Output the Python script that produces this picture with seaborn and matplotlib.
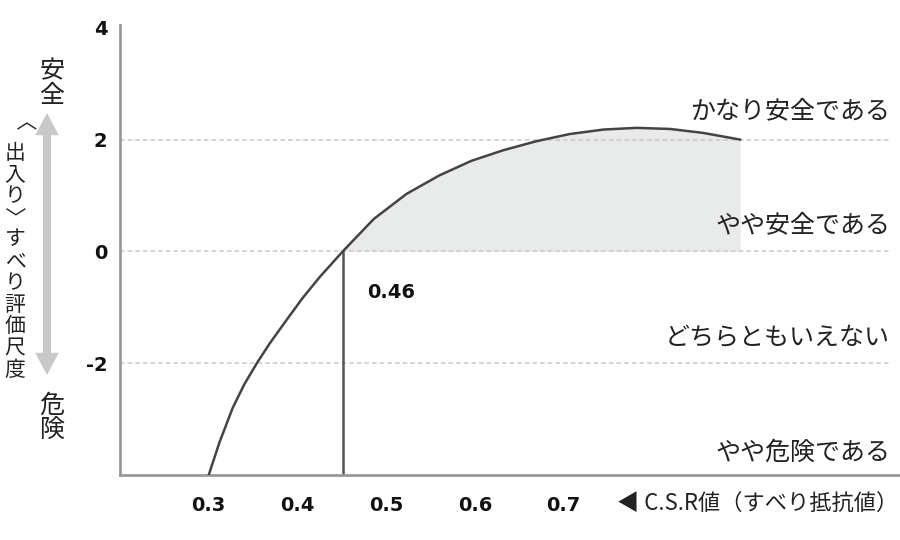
import matplotlib
matplotlib.use('Agg')
import matplotlib.pyplot as plt
import matplotlib.patches as mpatches
import seaborn as sns
import pandas as pd

# 読み取った曲線（C.S.R値とすべり評価）
csr = [0.300, 0.312, 0.327, 0.340, 0.355, 0.369, 0.388, 0.406, 0.425,
       0.451, 0.486, 0.523, 0.560, 0.596, 0.632, 0.669, 0.707, 0.745,
       0.782, 0.820, 0.857, 0.899]
score = [-4.00, -3.42, -2.80, -2.38, -1.98, -1.64, -1.22, -0.83, -0.46,
         0.00, 0.58, 1.03, 1.36, 1.62, 1.81, 1.97, 2.10, 2.18,
         2.21, 2.19, 2.12, 2.00]

cross_x = 0.451
cross_label = '0.46'
x_ticks = [0.3, 0.4, 0.5, 0.6, 0.7]
y_ticks = [4, 2, 0, -2]
grid_y = [2, 0, -2]
level_labels = ['かなり安全である', 'やや安全である', 'どちらともいえない', 'やや危険である']
level_y = [2.5, 0.47, -1.56, -3.6]
y_title = '〈出入り〉すべり評価尺度'
x_title = '◀ C.S.R値（すべり抵抗値）'

sns.set_theme(style='white')
jp = ['Noto Sans CJK JP', 'DejaVu Sans']
plt.rcParams['font.family'] = jp

fig = plt.figure(figsize=(9, 5.4), dpi=100)
ax = fig.add_axes([120 / 900, 65 / 540, 780 / 900, 450 / 540])
ax.set_xlim(0.2, 1.079)
ax.set_ylim(-4, 4.05)

df = pd.DataFrame({'csr': csr, 'score': score})
pos = df[df.score >= 0]
ax.fill_between(pos.csr, 0, pos.score, color='#e9eaea', lw=0, zorder=0)
for g in grid_y:
    ax.axhline(g, xmin=0, xmax=770 / 780, color='#c8c8c8', lw=1.1,
               ls=(0, (3, 2)), zorder=1)
sns.lineplot(data=df, x='csr', y='score', sort=False, color='#444444',
             lw=1.8, ax=ax, zorder=3)
ax.vlines(cross_x, -4, 0, color='#555555', lw=1.8, zorder=2)
ax.text(cross_x + 0.028, -0.73, cross_label, family='DejaVu Sans',
        fontweight='bold', fontsize=14, va='center', color='#111111')

# 軸
for s in ['top', 'right']:
    ax.spines[s].set_visible(False)
for s in ['left', 'bottom']:
    ax.spines[s].set_color('#999999')
    ax.spines[s].set_linewidth(2)
ax.set_xticks(x_ticks)
ax.set_xticklabels([f'{v:.1f}' for v in x_ticks])
ax.set_yticks(y_ticks)
ax.set_yticklabels([str(v) for v in y_ticks])
ax.tick_params(axis='x', direction='in', length=7, width=1.5,
               color='#999999', pad=15)
ax.tick_params(axis='y', length=0, pad=9)
for lab in ax.get_xticklabels() + ax.get_yticklabels():
    lab.set_family('DejaVu Sans')
    lab.set_fontweight('bold')
    lab.set_fontsize(14)
    lab.set_color('#111111')
ax.set_xlabel('')
ax.set_ylabel('')

# 右側の評価ラベル
for lab, y in zip(level_labels, level_y):
    ax.text(770 / 780, y, lab, transform=ax.get_yaxis_transform(),
            ha='right', va='center', fontsize=18, color='#222222')

fig.text(898 / 900, 1 - 503 / 540, x_title, ha='right',
         va='center', fontsize=16, color='#222222')

# 左側の縦書き（括弧は回転、ベースライン基準で配置）
for i, ch in enumerate(y_title):
    y = 1 - (131 + i * 21.7) / 540
    if ch in '〈〉':
        fig.text(6 / 900, y, ch, ha='center', va='baseline', rotation=-90,
                 rotation_mode='anchor', fontsize=15, color='#222222')
    else:
        fig.text(15 / 900, y, ch, ha='center', va='center',
                 fontsize=15, color='#222222')
fig.text(52 / 900, 1 - 84 / 540, '安\n全', ha='center', va='center',
         fontsize=18, linespacing=0.95, color='#222222')
fig.text(52 / 900, 1 - 418 / 540, '危\n険', ha='center', va='center',
         fontsize=18, linespacing=0.95, color='#222222')

mid = (47, 540 - 244)
for end in [(47, 540 - 113), (47, 540 - 375)]:
    fig.patches.append(mpatches.FancyArrowPatch(
        mid, end, transform=None,
        arrowstyle='simple,head_width=17,head_length=16,tail_width=5.8',
        mutation_scale=1, color='#c8c8c8', lw=0, shrinkA=0, shrinkB=0))

fig.savefig('out.png', dpi=100)
